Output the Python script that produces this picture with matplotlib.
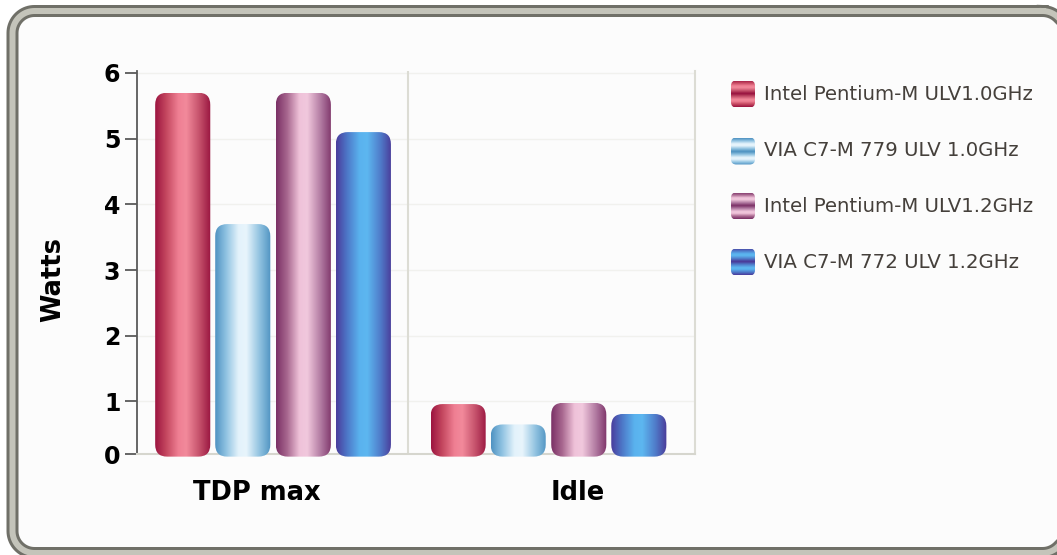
import numpy as np
import matplotlib
matplotlib.use('Agg')
import matplotlib.pyplot as plt
from matplotlib.patches import FancyBboxPatch
from matplotlib.colors import LinearSegmentedColormap

# data
categories = ['TDP max', 'Idle']
series_names = ['Intel Pentium-M ULV1.0GHz', 'VIA C7-M 779 ULV 1.0GHz',
                'Intel Pentium-M ULV1.2GHz', 'VIA C7-M 772 ULV 1.2GHz']
intel_10 = [5.7, 0.96]
via_779 = [3.7, 0.65]
intel_12 = [5.7, 0.98]
via_772 = [5.1, 0.81]
y_tick_labels = ['0', '1', '2', '3', '4', '5', '6']

values = [intel_10, via_779, intel_12, via_772]

# cylinder-like shading for each series
stops = [0, .2, .42, .56, .8, 1]
shades = [
    ['#9c1440', '#c4475f', '#ef7f93', '#f28a9b', '#c4506a', '#991540'],
    ['#4f92c2', '#90c3e2', '#e3f2fb', '#e8f5fc', '#90c2e0', '#5094c2'],
    ['#7a3065', '#a8678f', '#efc2d9', '#f1c8dd', '#b27ba2', '#7e356a'],
    ['#4a3c9c', '#4d78c8', '#5ab2ee', '#5db7f0', '#4f7bc9', '#4a3a98'],
]
cmaps = [LinearSegmentedColormap.from_list('s%d' % i, list(zip(stops, c)))
         for i, c in enumerate(shades)]

W, H = 1057, 555
fig = plt.figure(figsize=(W / 100, H / 100), dpi=100)
fig.patch.set_facecolor('white')


def rounded_outline(x0, y0, x1, y1, r, n=20):
    # closed polyline of a rounded rectangle (pixel units)
    pts = []
    corners = [(x1 - r, y0 + r, -90, 0), (x1 - r, y1 - r, 0, 90),
               (x0 + r, y1 - r, 90, 180), (x0 + r, y0 + r, 180, 270)]
    for cx, cy, a0, a1 in corners:
        t = np.radians(np.linspace(a0, a1, n))
        pts += list(zip(cx + r * np.cos(t), cy + r * np.sin(t)))
    pts.append(pts[0])
    xs, ys = zip(*pts)
    return np.array(xs), np.array(ys)


# rounded gray frame on a full-size background axes (pixel units, y down)
bg = fig.add_axes([0, 0, 1, 1], zorder=-5)
bg.set_xlim(0, W)
bg.set_ylim(H, 0)
bg.axis('off')
fx, fy = rounded_outline(12.5, 11, 1064.5, 553, 22)
bg.fill(fx, fy, color='#fcfcfc', lw=0)
bg.plot(fx, fy, color='#707068', lw=12 * 0.72, solid_joinstyle='round')
bg.plot(fx, fy, color='#c4c4ba', lw=6 * 0.72, solid_joinstyle='round')

ax = fig.add_axes([137 / W, 1 - 454 / H, (695 - 137) / W, (454 - 71) / H])
ax.set_facecolor('none')
y_bottom, y_top = 0.2, 6.03
x_left, x_right = -0.494, 1.532

px_x = (x_right - x_left) / (695 - 137)
px_y = (y_top - y_bottom) / (454 - 71)

offsets = [-0.328, -0.11, 0.11, 0.328]
bar_w = 0.2
base = 0.16
radius = 12 * px_x
aspect = px_y / px_x
grad = np.linspace(0, 1, 256).reshape(1, -1)

for i, vals in enumerate(values):
    for j, v in enumerate(vals):
        x0 = j + offsets[i] - bar_w / 2
        shape = FancyBboxPatch((x0, base), bar_w, v - base,
                               boxstyle='round,pad=0,rounding_size=%f' % radius,
                               mutation_aspect=aspect, transform=ax.transData,
                               fc='none', ec='none')
        im = ax.imshow(grad, cmap=cmaps[i], extent=[x0, x0 + bar_w, base, v],
                       aspect='auto', interpolation='bilinear', zorder=3)
        im.set_clip_path(shape)
        im.set_clip_box(fig.bbox)

ax.set_xlim(x_left, x_right)
ax.set_ylim(y_bottom, y_top)

# grid and separator
for yv in range(1, 7):
    ax.axhline(yv, color='#f1f1ee', lw=1, zorder=1)
ax.axvline(0.49, color='#dcdcd4', lw=1.5, zorder=1)

ax.spines['top'].set_visible(False)
ax.spines['left'].set_color('#5a5a5a')
ax.spines['left'].set_linewidth(1.3)
ax.spines['bottom'].set_color('#d6d6ce')
ax.spines['bottom'].set_linewidth(1.5)
ax.spines['right'].set_color('#dcdcd4')
ax.spines['right'].set_linewidth(1.5)

ax.set_yticks([y_bottom, 1, 2, 3, 4, 5, 6])
ax.set_yticklabels(y_tick_labels, fontsize=17, fontweight='bold')
ax.tick_params(axis='y', length=9, width=1.3, color='#5a5a5a', pad=3)
ax.set_xticks([])

label_x = [-0.06, 1.105]
for lx, cat in zip(label_x, categories):
    ax.text(lx, -0.102, cat, transform=ax.get_xaxis_transform(), ha='center',
            va='center', fontsize=18.5, fontweight='bold', color='black')

fig.text(53 / W, 1 - 279 / H, 'Watts', rotation=90, ha='center', va='center',
         fontsize=18.5, fontweight='bold', color='black')

# legend
legend_y = [94, 151, 206, 262]
vgrad = np.abs(np.linspace(-1, 1, 64)).reshape(-1, 1)
for k, name in enumerate(series_names):
    yc = legend_y[k]
    lax = fig.add_axes([731 / W, 1 - (yc + 13.5) / H, 24 / W, 27 / H])
    lax.set_xlim(0, 1)
    lax.set_ylim(0, 1)
    lax.axis('off')
    box = FancyBboxPatch((0, 0), 1, 1, boxstyle='round,pad=0,rounding_size=0.22',
                         mutation_aspect=24 / 27, transform=lax.transData,
                         fc='none', ec='none')
    li = lax.imshow(0.5 - 0.5 * vgrad, cmap=cmaps[k], extent=[0, 1, 0, 1],
                    aspect='auto', interpolation='bilinear')
    li.set_clip_path(box)
    fig.text(764 / W, 1 - yc / H, name, ha='left', va='center', fontsize=14.2,
             color='#45403b')

fig.savefig('out.png', dpi=100)
